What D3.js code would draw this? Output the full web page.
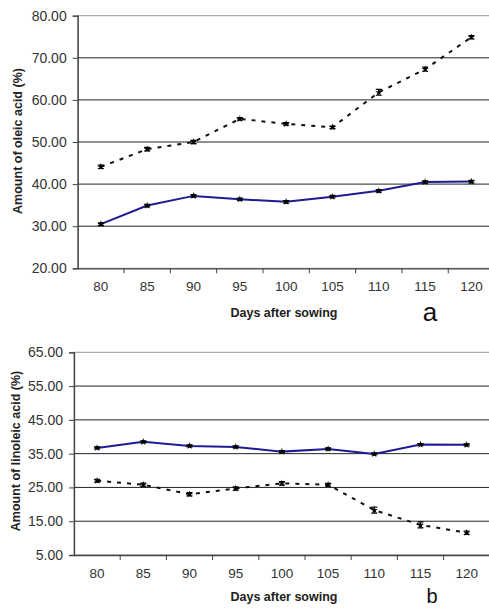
<!DOCTYPE html>
<html>
<head>
<meta charset="utf-8">
<script src="https://cdn.jsdelivr.net/npm/d3@7"></script>
<style>
  body { margin: 0; background: #fff; }
  text { font-family: "Liberation Sans", Arial, sans-serif; }
</style>
</head>
<body>
<div id="chart"></div>
<script>
// data
const days = [80, 85, 90, 95, 100, 105, 110, 115, 120];

const oleicSolid  = [30.5, 34.9, 37.2, 36.4, 35.8, 37.0, 38.4, 40.5, 40.6];
const oleicDashed = [44.1, 48.3, 50.0, 55.5, 54.3, 53.5, 61.8, 67.3, 74.9];
const oleicErr    = [0.4, 0.4, 0.4, 0.3, 0.3, 0.3, 0.7, 0.5, 0.4];
const oleicTicks  = [20, 30, 40, 50, 60, 70, 80];

const linoSolid   = [36.7, 38.5, 37.3, 37.0, 35.6, 36.4, 34.9, 37.7, 37.6];
const linoDashed  = [27.0, 25.8, 23.0, 24.7, 26.2, 25.8, 18.3, 13.9, 11.6];
const linoErr     = [0.4, 0.5, 0.5, 0.5, 0.5, 0.4, 0.9, 0.9, 0.5];
const linoTicks   = [5, 15, 25, 35, 45, 55, 65];

const W = 489, H = 609;
const svg = d3.select("#chart").append("svg")
    .attr("width", W).attr("height", H);

function drawPanel(opt) {
    const x = d3.scaleBand().domain(days).range([opt.left, opt.right]);
    const y = d3.scaleLinear().domain(opt.yDomain).range([opt.bottom, opt.top]);
    const g = svg.append("g");

    // plot area border (grey)
    g.append("rect")
        .attr("x", opt.left).attr("y", opt.top)
        .attr("width", opt.right - opt.left).attr("height", opt.bottom - opt.top)
        .attr("fill", "none").attr("stroke", "#999").attr("stroke-width", 1);

    // gridlines
    g.selectAll(".grid")
        .data(opt.ticks.slice(1, -1))
        .join("line")
        .attr("x1", opt.left).attr("x2", opt.right)
        .attr("y1", d => y(d)).attr("y2", d => y(d))
        .attr("stroke", "#222").attr("stroke-width", 1);

    // y axis
    const yAxis = g.append("g")
        .attr("transform", `translate(${opt.left},0)`)
        .call(d3.axisLeft(y).tickValues(opt.ticks).tickFormat(d3.format(".2f")).tickSize(5).tickPadding(6));
    yAxis.select(".domain").attr("stroke", "#444").attr("stroke-width", 1.3);
    yAxis.selectAll(".tick line").attr("stroke", "#444");
    yAxis.selectAll("text").attr("font-size", 14).attr("fill", "#333")
        .attr("font-family", "Liberation Sans, Arial, sans-serif");

    // x axis with ticks at band boundaries
    const xAxis = g.append("g")
        .attr("transform", `translate(0,${opt.bottom})`)
        .call(d3.axisBottom(x).tickSize(0).tickPadding(13));
    xAxis.select(".domain").attr("stroke", "#444").attr("stroke-width", 1.3);
    xAxis.selectAll("text").attr("font-size", 13.5).attr("fill", "#333")
        .attr("font-family", "Liberation Sans, Arial, sans-serif");
    g.selectAll(".xtick")
        .data(days.slice(1).concat(["end"]))
        .join("line")
        .attr("x1", (d, i) => opt.left + (i + 1) * x.bandwidth())
        .attr("x2", (d, i) => opt.left + (i + 1) * x.bandwidth())
        .attr("y1", opt.bottom).attr("y2", opt.bottom + 5)
        .attr("stroke", "#444");

    const cx = d => x(d) + x.bandwidth() / 2;
    const line = vals => d3.line()
        .x((d, i) => cx(days[i]))
        .y(d => y(d))(vals);

    // solid blue series
    g.append("path").attr("d", line(opt.solid))
        .attr("fill", "none").attr("stroke", "#1c1c94").attr("stroke-width", 2);
    // dashed black series
    g.append("path").attr("d", line(opt.dashed))
        .attr("fill", "none").attr("stroke", "#111").attr("stroke-width", 2)
        .attr("stroke-dasharray", "4,6");

    const series = [opt.solid, opt.dashed];
    series.forEach((vals, s) => {
        const err = s === 1 ? opt.err : vals.map(() => 0.3);
        // error bars
        g.selectAll(null).data(vals).join("path")
            .attr("d", (d, i) => {
                const px = cx(days[i]);
                const y0 = y(d - err[i]), y1 = y(d + err[i]);
                return `M${px - 3},${y0}H${px + 3}M${px},${y0}V${y1}M${px - 3},${y1}H${px + 3}`;
            })
            .attr("stroke", "#000").attr("stroke-width", 1.2).attr("fill", "none");
        // markers
        g.selectAll(null).data(vals).join("path")
            .attr("transform", (d, i) => `translate(${cx(days[i])},${y(d)})`)
            .attr("d", d3.symbol(d3.symbolStar, 16))
            .attr("fill", "#000");
    });

    // axis titles
    g.append("text")
        .attr("x", opt.titleX).attr("y", opt.xTitleY)
        .attr("text-anchor", "middle")
        .attr("font-size", 12.5).attr("font-weight", "bold").attr("fill", "#222")
        .text("Days after sowing");
    g.append("text")
        .attr("transform", `translate(${opt.yTitleX},${opt.yTitleY}) rotate(-90)`)
        .attr("text-anchor", "middle")
        .attr("font-size", 12.5).attr("font-weight", "bold").attr("fill", "#222")
        .text(opt.yTitle);
    g.append("text")
        .attr("x", opt.letterX).attr("y", opt.letterY)
        .attr("text-anchor", "middle")
        .attr("font-size", opt.letterSize).attr("fill", "#111")
        .text(opt.letter);
}

drawPanel({
    left: 77.7, right: 494.6, top: 15.7, bottom: 268.3,
    yDomain: [20, 80], ticks: oleicTicks,
    solid: oleicSolid, dashed: oleicDashed, err: oleicErr,
    titleX: 284, xTitleY: 317, yTitleX: 22, yTitleY: 141,
    yTitle: "Amount of oleic acid (%)",
    letter: "a", letterX: 430, letterY: 321, letterSize: 26
});

drawPanel({
    left: 74, right: 489.8, top: 352.3, bottom: 555,
    yDomain: [5, 65], ticks: linoTicks,
    solid: linoSolid, dashed: linoDashed, err: linoErr,
    titleX: 284, xTitleY: 601, yTitleX: 20, yTitleY: 451,
    yTitle: "Amount of linoleic acid (%)",
    letter: "b", letterX: 432, letterY: 603, letterSize: 20
});
</script>
</body>
</html>
